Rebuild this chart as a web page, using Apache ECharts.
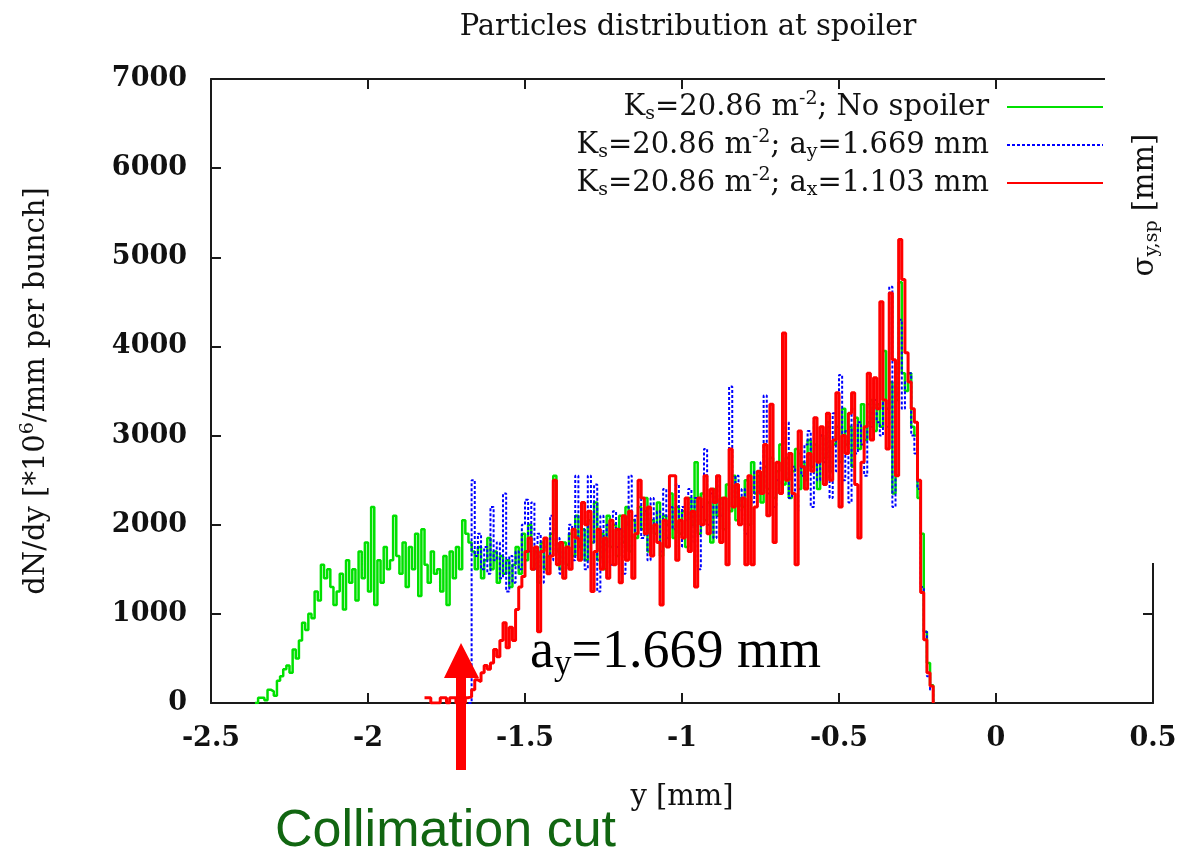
<!DOCTYPE html>
<html><head><meta charset="utf-8">
<script src="https://cdn.jsdelivr.net/npm/echarts/dist/echarts.min.js"></script>
<style>html,body{margin:0;padding:0;background:#fff}#c{width:1182px;height:857px}</style>
</head><body><div id="c"></div>
<script>
// ---- data ----
const xTickValues = [-2.5, -2, -1.5, -1, -0.5, 0, 0.5];
const xTickLabels = ['-2.5', '-2', '-1.5', '-1', '-0.5', '0', '0.5'];
const yTickValues = [0, 1000, 2000, 3000, 4000, 5000, 6000, 7000];
const yTickLabels = ['0', '1000', '2000', '3000', '4000', '5000', '6000', '7000'];
const binWidth = 0.01;

const seriesNames = ['noSpoiler', 'ay', 'ax'];

// K_s=20.86 m^-2; No spoiler  (bins start at -2.36 mm)
const greenStart = -2.36;
const greenValues = [
  0,60,60,30,150,130,80,250,300,380,
  420,340,600,500,700,900,820,1000,950,1250,
  1150,1550,1400,1500,1300,1100,1250,1450,1050,1600,
  1350,1500,1150,1700,1400,1800,1250,2200,1100,1600,
  1350,1750,1500,1600,2100,1650,1450,1800,1300,1750,
  1500,1900,1200,1950,1550,1350,1700,1450,1500,1250,
  1650,1100,1700,1400,1750,1500,2050,1900,1800,1700,
  1500,1750,1400,1600,1850,1500,1700,1350,1650,1450,
  1600,1300,1550,1750,1450,1900,1600,2000,1500,1700,
  1350,1800,1500,1650,1900,2550,1700,1500,1800,1550,
  1900,1650,2100,1750,1950,1600,2050,1800,2250,1600,
  1900,1500,2100,1750,2000,1650,2100,1800,2200,1700,
  2050,1850,2200,1950,2300,1700,2050,1900,2250,1650,
  2100,2000,2350,1850,2200,1900,2150,1750,2300,2000,
  2700,1900,2350,2050,2250,1800,2400,2100,2300,1950,
  2450,2150,2550,2050,2300,2200,2500,2000,2700,2350,
  2550,2250,2650,2400,2750,2300,2600,2900,2450,2750,
  2300,2600,2850,2400,2700,2500,2950,2650,2900,2400,
  3000,2750,3150,2600,2900,3100,2700,3300,2900,3100,
  2650,3200,2850,3350,2950,3150,3400,3050,3350,3100,
  3950,3300,3600,2350,3400,4720,3700,3500,3700,3100,
  3000,2300,1900,800,450,200,0
];

// K_s=20.86 m^-2; a_y=1.669 mm  (bins start at -1.68 mm)
const blueStart = -1.68;
const blueValues = [
  0,2500,1650,1900,1500,1750,1450,2200,1600,1800,
  1400,2350,1250,1650,1350,1700,1500,2000,2280,1700,
  2250,1500,1900,1350,1750,1550,2100,1600,1850,1450,
  1700,1500,2000,1600,2550,1750,1950,1500,2550,1800,
  2450,1250,2100,1700,2000,1550,2150,1750,1950,1450,
  2000,2550,1700,2100,2300,1850,2150,1600,2300,1950,
  2150,1700,2400,1850,2200,1950,2450,1750,2200,2050,
  2400,1800,2300,1500,2200,2850,2000,2350,1850,2550,
  2100,2300,2000,3550,2300,2550,2150,2400,1900,2450,
  2250,2600,2350,2700,3450,2350,2700,2200,2500,2450,
  2900,3150,2300,2650,2150,2800,2550,2900,3050,2200,
  3200,2500,3000,2700,3100,2300,3250,2600,3680,2500,
  3050,2250,3300,2800,3150,2900,2550,3350,3100,3400,
  3150,3000,3400,3100,4670,2200,3450,4300,3300,3600,
  3700,3000,2800,2400,1300,800,300,150,0
];

// K_s=20.86 m^-2; a_x=1.103 mm  (bins start at -1.82 mm)
const redStart = -1.82;
const redValues = [
  60,60,0,0,0,60,60,0,60,60,
  0,60,0,60,70,150,260,240,340,420,
  380,450,600,520,700,900,620,850,700,1050,
  1300,1420,1700,1850,1500,1750,800,1700,1850,1450,
  1650,2500,1550,1800,1400,1750,1500,1950,1850,1600,
  2250,2000,2150,1250,1700,1950,1500,1850,1400,2050,
  1550,1950,1350,2100,1600,2150,1400,1900,2500,2300,
  1900,2200,1650,2000,1800,1100,2050,1750,2550,2550,
  1600,2050,1850,2300,1700,2150,1300,2300,2000,2550,
  1900,2400,2250,2550,1800,2300,1550,2850,2200,2450,
  2000,2300,1550,2550,1550,2200,2600,2350,2900,2100,
  3350,1800,2700,2350,4150,2500,2800,2350,1550,3050,
  2650,2400,2800,2600,3200,2700,3100,2450,3250,2500,
  2950,3480,2200,3000,2800,3250,3480,2450,1850,2700,
  3100,3700,2950,3650,3300,4500,3400,2850,4600,3850,
  2550,5200,4750,3930,3600,3300,3150,2500,1240,710,
  340,190,0
];

// ---- build ----
function toPairs(start, vals) {
  return vals.map((v, i) => [Math.round((start + i * binWidth) * 100) / 100, v]);
}
const SERIF = '"DejaVu Serif", serif';
const legendText = {
  noSpoiler: '{t|K}{sb|s}{t|=20.86 m}{sp|-2}{t|; No spoiler}',
  ay: '{t|K}{sb|s}{t|=20.86 m}{sp|-2}{t|; a}{sb|y}{t|=1.669 mm}',
  ax: '{t|K}{sb|s}{t|=20.86 m}{sp|-2}{t|; a}{sb|x}{t|=1.103 mm}'
};
const axisColor = '#1a1a1a';
function xLab(v) { const i = xTickValues.findIndex(t => Math.abs(t - v) < 1e-9); return i >= 0 ? xTickLabels[i] : ''; }
function yLab(v) { const i = yTickValues.indexOf(v); return i >= 0 ? yTickLabels[i] : ''; }

const chart = echarts.init(document.getElementById('c'), null, {renderer: 'canvas'});
const baseX = {
  type: 'value', min: xTickValues[0], max: xTickValues[xTickValues.length - 1], interval: 0.5,
  axisLine: {show: true, onZero: false, lineStyle: {color: axisColor, width: 2}},
  axisTick: {show: true, inside: true, length: 10, lineStyle: {color: axisColor, width: 2}},
  splitLine: {show: false}
};
const baseY = {
  type: 'value', min: yTickValues[0], max: yTickValues[yTickValues.length - 1], interval: 1000,
  axisLine: {show: true, onZero: false, lineStyle: {color: axisColor, width: 2}},
  axisTick: {show: true, inside: true, length: 10, lineStyle: {color: axisColor, width: 2}},
  splitLine: {show: false}
};
const option = {
  animation: false,
  backgroundColor: '#ffffff',
  title: {
    text: 'Particles distribution at spoiler',
    left: 683, top: 8, textAlign: 'center',
    textStyle: {fontFamily: SERIF, fontSize: 29, fontWeight: 'normal', color: '#111'}
  },
  grid: {left: 211, right: 29, top: 79, bottom: 154},
  legend: {
    orient: 'vertical', right: 78, top: 90, align: 'right', padding: 0,
    itemWidth: 96, itemHeight: 2, itemGap: 4,
    itemStyle: {opacity: 0},
    data: seriesNames,
    formatter: name => legendText[name],
    textStyle: {
      padding: [0, 13, 0, 0],
      rich: {
        t: {fontFamily: SERIF, fontSize: 29, color: '#111', lineHeight: 34},
        sb: {fontFamily: SERIF, fontSize: 19, color: '#111', lineHeight: 18, verticalAlign: 'bottom'},
        sp: {fontFamily: SERIF, fontSize: 19, color: '#111', lineHeight: 18, verticalAlign: 'top'}
      }
    }
  },
  xAxis: [
    Object.assign({}, baseX, {
      position: 'bottom',
      name: 'y [mm]', nameLocation: 'middle', nameGap: 80,
      nameTextStyle: {fontFamily: SERIF, fontSize: 29, color: '#111'},
      axisLabel: {show: true, margin: 22, formatter: xLab, fontFamily: SERIF, fontSize: 27, fontWeight: 'bold', color: '#111'}
    }),
    Object.assign({}, baseX, {position: 'top', axisLabel: {show: false}})
  ],
  yAxis: [
    Object.assign({}, baseY, {
      position: 'left',
      name: '{t|dN/dy [*10}{sp|6}{t|/mm per bunch]}', nameLocation: 'middle', nameGap: 158, nameRotate: 90,
      nameTextStyle: {
        rich: {
          t: {fontFamily: SERIF, fontSize: 29, color: '#111', lineHeight: 34},
          sp: {fontFamily: SERIF, fontSize: 19, color: '#111', lineHeight: 18, verticalAlign: 'top'}
        }
      },
      axisLabel: {show: true, margin: 24, formatter: yLab, fontFamily: SERIF, fontSize: 27, fontWeight: 'bold', color: '#111'}
    }),
    Object.assign({}, baseY, {position: 'right', axisLabel: {show: false}})
  ],
  series: [
    {
      name: seriesNames[0], type: 'line', step: 'end', symbol: 'none', z: 2,
      data: toPairs(greenStart, greenValues),
      itemStyle: {color: '#00e000'},
      lineStyle: {color: '#00e000', width: 2.5}
    },
    {
      name: seriesNames[1], type: 'line', step: 'end', symbol: 'none', z: 3,
      data: toPairs(blueStart, blueValues),
      itemStyle: {color: '#0000ff'},
      lineStyle: {color: '#0000ff', width: 2, type: [3, 2]}
    },
    {
      name: seriesNames[2], type: 'line', step: 'end', symbol: 'none', z: 4,
      data: toPairs(redStart, redValues),
      itemStyle: {color: '#ff0000'},
      lineStyle: {color: '#ff0000', width: 3}
    }
  ],
  graphic: [
    {type: 'rect', z: 100, shape: {x: 1105, y: 0, width: 80, height: 563}, style: {fill: '#ffffff'}},
    {
      type: 'text', z: 101, x: 1145, y: 205, rotation: Math.PI / 2,
      style: {
        text: '{a|σ}{b|y,sp}{a| [mm]}', align: 'center', verticalAlign: 'middle',
        rich: {
          a: {fontFamily: SERIF, fontSize: 29, fill: '#111', lineHeight: 34},
          b: {fontFamily: SERIF, fontSize: 19, fill: '#111', lineHeight: 18, verticalAlign: 'bottom'}
        }
      }
    },
    {
      type: 'polygon', z: 102,
      shape: {points: [[456, 770], [466, 770], [466, 678], [479, 678], [461, 643], [444, 678], [456, 678]]},
      style: {fill: '#ff0000'}
    },
    {
      type: 'text', z: 102, x: 530, y: 653,
      style: {
        text: '{a|a}{b|y}{a|=1.669 mm}', align: 'left', verticalAlign: 'middle',
        rich: {
          a: {fontFamily: '"Liberation Serif", serif', fontSize: 54, fill: '#000', lineHeight: 58},
          b: {fontFamily: '"Liberation Serif", serif', fontSize: 35, fill: '#000', lineHeight: 35, verticalAlign: 'bottom'}
        }
      }
    },
    {
      type: 'text', z: 102, x: 275, y: 832,
      style: {
        text: 'Collimation cut', align: 'left', verticalAlign: 'middle',
        font: '52px "Liberation Sans", Arial, sans-serif', fill: '#116611'
      }
    }
  ]
};
chart.setOption(option);
</script>
</body></html>
